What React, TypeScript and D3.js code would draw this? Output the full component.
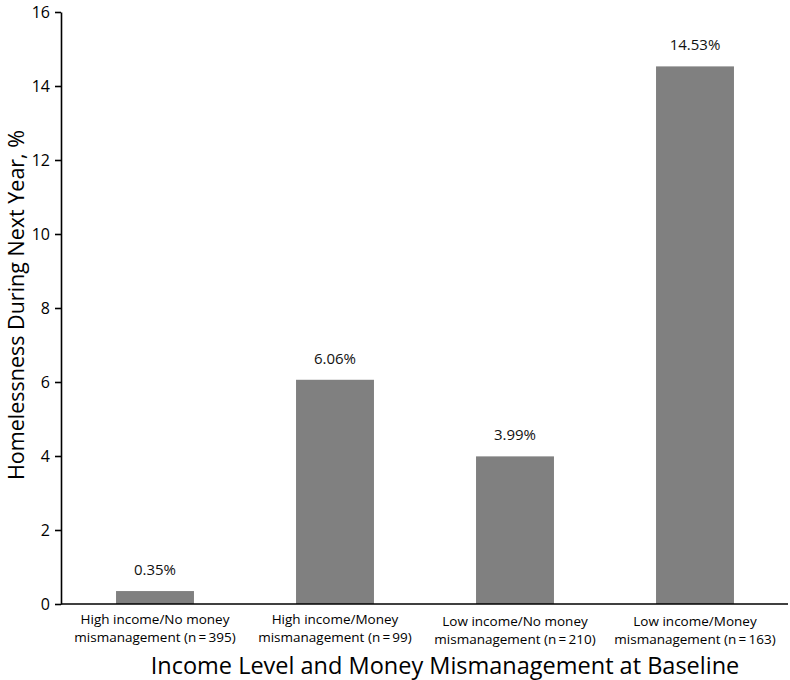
import { useEffect, useRef } from "react";
import * as d3 from "d3";

const categories = [
  ["High income/No money", "mismanagement (n\u2009=\u2009395)"],
  ["High income/Money", "mismanagement (n\u2009=\u200999)"],
  ["Low income/No money", "mismanagement (n\u2009=\u2009210)"],
  ["Low income/Money", "mismanagement (n\u2009=\u2009163)"],
];
const values = [0.35, 6.06, 3.99, 14.53];
const valueLabels = ["0.35%", "6.06%", "3.99%", "14.53%"];
const yTicks = [0, 2, 4, 6, 8, 10, 12, 14, 16];

export default function App() {
  const ref = useRef<SVGSVGElement>(null);

  useEffect(() => {
    if (!ref.current) return;
    const width = 790,
      height = 680;
    const font = "'Open Sans', sans-serif";

    const svg = d3.select(ref.current);
    svg.selectAll("*").remove();
    svg.attr("width", width).attr("height", height);

    const x = d3
      .scaleBand<number>()
      .domain(d3.range(values.length))
      .range([65, 785])
      .paddingInner(0.567)
      .paddingOuter(0.2835);

    const y = d3.scaleLinear().domain([0, 16]).range([604, 12]);

    // bars
    svg
      .append("g")
      .selectAll("rect")
      .data(values)
      .enter()
      .append("rect")
      .attr("x", (_, i) => x(i)!)
      .attr("y", (d) => y(d))
      .attr("width", x.bandwidth())
      .attr("height", (d) => y(0) - y(d))
      .attr("fill", "#808080");

    // value labels above bars
    svg
      .append("g")
      .selectAll("text")
      .data(values)
      .enter()
      .append("text")
      .attr("x", (_, i) => x(i)! + x.bandwidth() / 2)
      .attr("y", (d) => y(d) - 16)
      .attr("text-anchor", "middle")
      .style("font-family", font)
      .style("font-size", "15px")
      .style("fill", "#111")
      .text((_, i) => valueLabels[i]);

    // y axis
    const yAxis = svg
      .append("g")
      .attr("transform", "translate(61,0)")
      .call(d3.axisLeft(y).tickValues(yTicks).tickSize(6).tickSizeOuter(0).tickPadding(5));
    yAxis.select(".domain").attr("stroke", "#000").attr("stroke-width", 1.6);
    yAxis.selectAll(".tick line").attr("stroke", "#000").attr("stroke-width", 1.6);
    yAxis
      .selectAll(".tick text")
      .style("font-family", font)
      .style("font-size", "16px")
      .style("fill", "#000");

    // x axis line
    svg
      .append("line")
      .attr("x1", 61)
      .attr("x2", 788)
      .attr("y1", y(0))
      .attr("y2", y(0))
      .attr("stroke", "#000")
      .attr("stroke-width", 1.6);

    // category labels, two lines each
    categories.forEach((lines, i) => {
      const t = svg
        .append("text")
        .attr("text-anchor", "middle")
        .style("font-family", font)
        .style("font-size", "13.5px")
        .style("fill", "#000");
      lines.forEach((line, j) => {
        t.append("tspan")
          .attr("x", x(i)! + x.bandwidth() / 2)
          .attr("y", 624 + (i >= 2 ? 1.5 : 0) + j * 18)
          .text(line);
      });
    });

    // axis titles
    svg
      .append("text")
      .attr("x", 445)
      .attr("y", 674)
      .attr("text-anchor", "middle")
      .style("font-family", font)
      .style("font-size", "23.5px")
      .style("fill", "#000")
      .text("Income Level and Money Mismanagement at Baseline");

    svg
      .append("text")
      .attr("transform", "translate(24,305) rotate(-90)")
      .attr("text-anchor", "middle")
      .style("font-family", font)
      .style("font-size", "21.5px")
      .style("fill", "#000")
      .text("Homelessness During Next Year, %");
  }, []);

  return (
    <div style={{ position: "absolute", left: 0, top: 0 }}>
      <svg ref={ref} style={{ display: "block", background: "#fff" }} />
    </div>
  );
}
